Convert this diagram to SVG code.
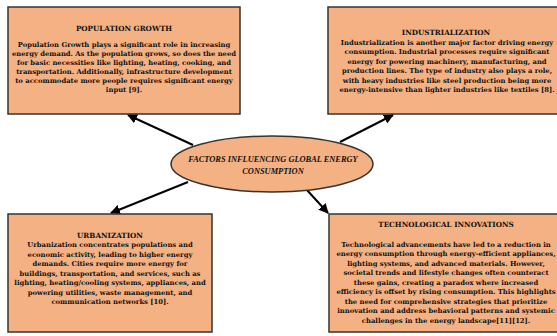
<svg xmlns="http://www.w3.org/2000/svg" width="557" height="336" viewBox="0 0 557 336">
<defs>
<marker id="ah" viewBox="0 0 10 10" refX="9" refY="5" markerWidth="5" markerHeight="5" orient="auto" markerUnits="strokeWidth">
<path d="M0,0 L10,5 L0,10 z" fill="#000"/>
</marker>
<style>
.box{fill:#F4B183;stroke:#333;stroke-width:1.5}
.t{font-family:"DejaVu Serif",serif;font-weight:bold;font-size:6.8px;fill:#111;text-anchor:middle}
.h{font-size:7.2px}
.e{font-family:"Liberation Serif",serif;font-weight:bold;font-style:italic;font-size:8.4px;fill:#111;text-anchor:middle}
.c{stroke:#000;stroke-width:2;fill:none;marker-end:url(#ah)}
</style>
</defs>
<rect width="557" height="336" fill="#fff"/>
<g id="connectors">
<line class="c" x1="193" y1="145" x2="128" y2="115"/>
<line class="c" x1="340" y1="142" x2="393" y2="115"/>
<line class="c" x1="188" y1="182" x2="111" y2="213"/>
<line class="c" x1="306" y1="189" x2="328" y2="213"/>
</g>
<g id="center">
<ellipse cx="272" cy="164" rx="101" ry="28" fill="#F4B183" stroke="#333" stroke-width="1.5"/>
<text class="e" x="273" y="162">FACTORS INFLUENCING GLOBAL ENERGY</text>
<text class="e" x="273" y="174">CONSUMPTION</text>
</g>
<g id="population">
<rect class="box" x="8" y="7" width="232" height="107"/>
<text class="t h" x="124" y="31">POPULATION GROWTH</text>
<text class="t" x="124" y="47">Population Growth plays a significant role in increasing</text>
<text class="t" x="124" y="56">energy demand. As the population grows, so does the need</text>
<text class="t" x="124" y="65">for basic necessities like lighting, heating, cooking, and</text>
<text class="t" x="124" y="73.5">transportation. Additionally, infrastructure development</text>
<text class="t" x="124" y="82.5">to accommodate more people requires significant energy</text>
<text class="t" x="124" y="91.5">input [9].</text>
</g>
<g id="industrialization">
<rect class="box" x="328" y="7" width="234" height="107"/>
<text class="t h" x="446" y="34.5">INDUSTRIALIZATION</text>
<text class="t" x="447" y="44.5">Industrialization is another major factor driving energy</text>
<text class="t" x="447" y="54">consumption. Industrial processes require significant</text>
<text class="t" x="447" y="63.5">energy for powering machinery, manufacturing, and</text>
<text class="t" x="447" y="73">production lines. The type of industry also plays a role,</text>
<text class="t" x="447" y="82.5">with heavy industries like steel production being more</text>
<text class="t" x="447" y="92">energy-intensive than lighter industries like textiles [8].</text>
</g>
<g id="urbanization">
<rect class="box" x="8" y="214" width="204" height="118"/>
<text class="t h" x="110" y="237.5">URBANIZATION</text>
<text class="t" x="110" y="247">Urbanization concentrates populations and</text>
<text class="t" x="110" y="256.5">economic activity, leading to higher energy</text>
<text class="t" x="110" y="266">demands. Cities require more energy for</text>
<text class="t" x="110" y="275.5">buildings, transportation, and services, such as</text>
<text class="t" x="110" y="285">lighting, heating/cooling systems, appliances, and</text>
<text class="t" x="110" y="294.5">powering utilities, waste management, and</text>
<text class="t" x="110" y="304">communication networks [10].</text>
</g>
<g id="technological">
<rect class="box" x="329" y="214" width="233" height="118"/>
<text class="t h" x="446" y="226.5">TECHNOLOGICAL INNOVATIONS</text>
<text class="t" x="446" y="246.5">Technological advancements have led to a reduction in</text>
<text class="t" x="446" y="256">energy consumption through energy-efficient appliances,</text>
<text class="t" x="446" y="265.5">lighting systems, and advanced materials. However,</text>
<text class="t" x="446" y="275">societal trends and lifestyle changes often counteract</text>
<text class="t" x="446" y="284.5">these gains, creating a paradox where increased</text>
<text class="t" x="446" y="294">efficiency is offset by rising consumption. This highlights</text>
<text class="t" x="446" y="303.5">the need for comprehensive strategies that prioritize</text>
<text class="t" x="446" y="313">innovation and address behavioral patterns and systemic</text>
<text class="t" x="446" y="322.5">challenges in the energy landscape[11][12].</text>
</g>
</svg>
